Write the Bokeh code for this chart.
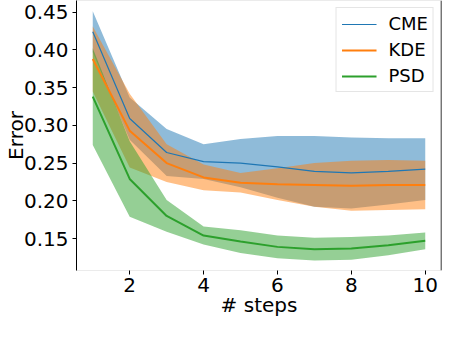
from bokeh.plotting import figure
from bokeh.models import (Range1d, FixedTicker, NumeralTickFormatter, Span,
                          Legend, LegendItem, ColumnDataSource)
from bokeh.embed import file_html
from bokeh.resources import INLINE

# ---- data ----
steps = [1, 2, 3, 4, 5, 6, 7, 8, 9, 10]

cme_mean = [0.424, 0.309, 0.264, 0.252, 0.250, 0.245, 0.239, 0.237, 0.239, 0.242]
cme_std = [0.027, 0.028, 0.031, 0.023, 0.032, 0.041, 0.047, 0.047, 0.044, 0.041]

kde_mean = [0.388, 0.293, 0.250, 0.231, 0.224, 0.222, 0.221, 0.220, 0.221, 0.221]
kde_std = [0.043, 0.049, 0.025, 0.017, 0.013, 0.021, 0.029, 0.033, 0.033, 0.032]

psd_mean = [0.338, 0.229, 0.180, 0.154, 0.146, 0.139, 0.136, 0.137, 0.141, 0.147]
psd_std = [0.064, 0.050, 0.021, 0.012, 0.015, 0.015, 0.015, 0.015, 0.013, 0.011]

series_names = ["CME", "KDE", "PSD"]
series_colors = ["#1f77b4", "#ff7f0e", "#2ca02c"]
series_widths = [1.2, 2.0, 2.0]

x_ticks = [2, 4, 6, 8, 10]
y_ticks = [0.15, 0.20, 0.25, 0.30, 0.35, 0.40, 0.45]

FONT = "DejaVu Sans"
X_START, X_END = 0.56, 10.44
Y_START, Y_END = 0.1077, 0.4654

# page = 8px margin + figure + 8px margin must fit 460x340
p = figure(width=442, height=322, output_backend="svg",
           toolbar_location=None,
           x_range=Range1d(X_START, X_END), y_range=Range1d(Y_START, Y_END),
           min_border_left=70, min_border_right=1, min_border_top=0,
           min_border_bottom=52)
p.background_fill_color = "white"
p.border_fill_color = "white"
p.outline_line_color = "#ebebeb"
p.outline_line_width = 1
p.xgrid.grid_line_color = None
p.ygrid.grid_line_color = None

means = [cme_mean, kde_mean, psd_mean]
stds = [cme_std, kde_std, psd_std]

# bands first
for m, s, c in zip(means, stds, series_colors):
    src = ColumnDataSource(dict(
        x=steps,
        lo=[a - b for a, b in zip(m, s)],
        hi=[a + b for a, b in zip(m, s)],
    ))
    p.varea(x="x", y1="lo", y2="hi", source=src, fill_color=c, fill_alpha=0.5)

line_renderers = []
for m, c, w in zip(means, series_colors, series_widths):
    src = ColumnDataSource(dict(x=steps, y=m))
    r = p.line(x="x", y="y", source=src, line_color=c, line_width=w)
    line_renderers.append(r)

# right spine
p.add_layout(Span(location=X_END, dimension="height", line_color="black",
                  line_width=1.5))

# axes
yax = p.yaxis[0]
yax.ticker = FixedTicker(ticks=y_ticks)
yax.formatter = NumeralTickFormatter(format="0.00")
yax.axis_line_color = "black"
yax.axis_line_width = 1
yax.major_tick_out = 4
yax.major_tick_in = 0
yax.major_tick_line_color = "black"
yax.minor_tick_line_color = None
yax.major_label_text_font = FONT
yax.major_label_text_font_size = "20px"
yax.major_label_text_color = "black"
yax.major_label_standoff = 4
yax.axis_label = "Error"
yax.axis_label_text_font = FONT
yax.axis_label_text_font_size = "20px"
yax.axis_label_text_font_style = "normal"
yax.axis_label_text_color = "black"
yax.axis_label_standoff = -7

xax = p.xaxis[0]
xax.ticker = FixedTicker(ticks=x_ticks)
xax.axis_line_color = "#ebebeb"
xax.axis_line_width = 1
xax.major_tick_out = 4
xax.major_tick_in = 0
xax.major_tick_line_color = "black"
xax.minor_tick_line_color = None
xax.major_label_text_font = FONT
xax.major_label_text_font_size = "20px"
xax.major_label_text_color = "black"
xax.major_label_standoff = 3
xax.axis_label = "# steps"
xax.axis_label_text_font = FONT
xax.axis_label_text_font_size = "20px"
xax.axis_label_text_font_style = "normal"
xax.axis_label_text_color = "black"
xax.axis_label_standoff = -2

legend = Legend(
    items=[LegendItem(label=n, renderers=[r]) for n, r in zip(series_names, line_renderers)],
    location="top_right", margin=7,
    label_text_font=FONT, label_text_font_size="18px", label_text_color="black",
    glyph_width=35, glyph_height=20, label_height=20, label_standoff=12,
    padding=5, spacing=5,
    border_line_color="#cccccc", border_line_width=1,
    background_fill_color="white", background_fill_alpha=0.8,
)
p.add_layout(legend, "center")

open("out.html", "w").write(file_html(p, INLINE))
